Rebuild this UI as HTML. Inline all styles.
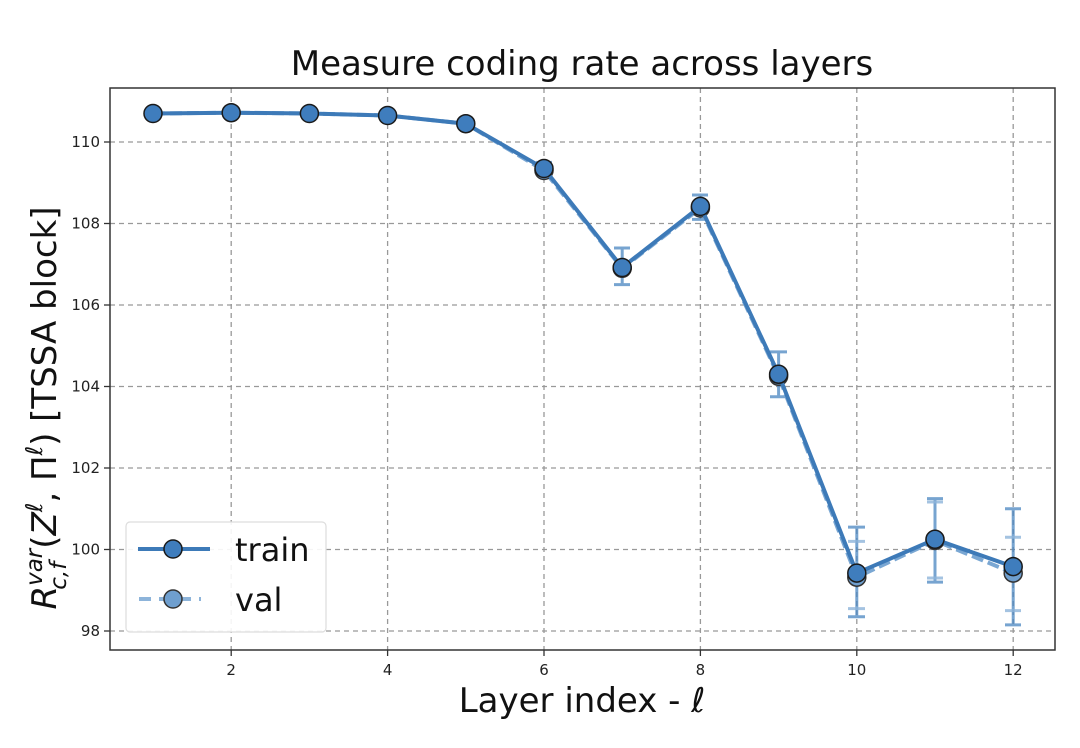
<!DOCTYPE html>
<html><head><meta charset="utf-8"><style>body{margin:0;background:#fff}svg{display:block}</style></head><body>
<svg width="1080" height="748" xmlns="http://www.w3.org/2000/svg" font-family="DejaVu Sans, Liberation Sans, sans-serif">
<rect width="1080" height="748" fill="#fff"/>
<text x="582" y="75" font-size="34" text-anchor="middle" fill="#111">Measure coding rate across layers</text>
<g stroke="#999" stroke-width="1.3" stroke-dasharray="5,4">
<line x1="110" x2="1055" y1="142" y2="142"/><line x1="110" x2="1055" y1="223.5" y2="223.5"/><line x1="110" x2="1055" y1="305" y2="305"/><line x1="110" x2="1055" y1="386.5" y2="386.5"/><line x1="110" x2="1055" y1="468" y2="468"/><line x1="110" x2="1055" y1="549.5" y2="549.5"/><line x1="110" x2="1055" y1="631" y2="631"/>
<line y1="88" y2="650" x1="231.2" x2="231.2"/><line y1="88" y2="650" x1="387.6" x2="387.6"/><line y1="88" y2="650" x1="544" x2="544"/><line y1="88" y2="650" x1="700.4" x2="700.4"/><line y1="88" y2="650" x1="856.8" x2="856.8"/><line y1="88" y2="650" x1="1013.2" x2="1013.2"/>
</g>
<rect x="110" y="88" width="945" height="562" fill="none" stroke="#333" stroke-width="1.5"/>
<g stroke="#333" stroke-width="1.3">
<line x1="104" x2="110" y1="142" y2="142"/><line x1="104" x2="110" y1="223.5" y2="223.5"/><line x1="104" x2="110" y1="305" y2="305"/><line x1="104" x2="110" y1="386.5" y2="386.5"/><line x1="104" x2="110" y1="468" y2="468"/><line x1="104" x2="110" y1="549.5" y2="549.5"/><line x1="104" x2="110" y1="631" y2="631"/>
<line y1="650" y2="656" x1="231.2" x2="231.2"/><line y1="650" y2="656" x1="387.6" x2="387.6"/><line y1="650" y2="656" x1="544" x2="544"/><line y1="650" y2="656" x1="700.4" x2="700.4"/><line y1="650" y2="656" x1="856.8" x2="856.8"/><line y1="650" y2="656" x1="1013.2" x2="1013.2"/>
</g>
<g font-size="15" fill="#222" text-anchor="end">
<text x="100" y="147">110</text><text x="100" y="228.5">108</text><text x="100" y="310">106</text><text x="100" y="391.5">104</text><text x="100" y="473">102</text><text x="100" y="554.5">100</text><text x="100" y="636">98</text>
</g>
<g font-size="15" fill="#222" text-anchor="middle">
<text x="231.2" y="675">2</text><text x="387.6" y="675">4</text><text x="544" y="675">6</text><text x="700.4" y="675">8</text><text x="856.8" y="675">10</text><text x="1013.2" y="675">12</text>
</g>
<text x="582" y="712" font-size="34" text-anchor="middle" fill="#111">Layer index - <tspan font-style="italic">ℓ</tspan></text>
<text transform="translate(56,408) rotate(-90)" font-size="34" text-anchor="middle" fill="#111"><tspan font-style="italic">R</tspan><tspan font-size="23" dy="-14" font-style="italic">var</tspan><tspan font-size="23" dx="-41" dy="24" font-style="italic">c,f</tspan><tspan dy="-10" dx="13">(</tspan><tspan font-style="italic">Z</tspan><tspan font-size="23" dy="-14" font-style="italic">ℓ</tspan><tspan dy="14">, Π</tspan><tspan font-size="23" dy="-14" font-style="italic">ℓ</tspan><tspan dy="14">) [TSSA block]</tspan></text>
<g stroke="#4a86c0" stroke-opacity="0.75" stroke-width="3">
<path d="M544 162.4V174.6M536 162.4H552M536 174.6H552"/>
<path d="M622.2 248V284.6M614 248H630M614 284.6H630"/>
<path d="M700.4 195V219.4M692 195H708M692 219.4H708"/>
<path d="M778.6 351.9V396.7M770 351.9H787M770 396.7H787"/>
<path d="M856.8 527.1V616.7M848 527.1H865M848 616.7H865"/>
<path d="M935 498.6V582.1M927 498.6H943M927 582.1H943"/>
<path d="M1013.2 508.7V624.9M1005 508.7H1021M1005 624.9H1021"/>
</g>
<g stroke="#8db4da" stroke-opacity="0.8" stroke-width="3">
<path d="M848 541.4H865M848 608.6H865"/>
<path d="M927 502H943M927 578H943"/>
<path d="M1005 537.3H1021M1005 610.6H1021"/>
</g>
<polyline fill="none" stroke="#7aa7d3" stroke-width="4" stroke-dasharray="12,5" points="153,113.5 231.2,112.7 309.4,113.5 387.6,115.5 465.8,123.7 544,170.5 622.2,268.3 700.4,208 778.6,376.3 856.8,577.2 935,540.5 1013.2,573.1"/>
<g fill="#6f9fcf" stroke="#333" stroke-width="1.5">
<circle cx="544" cy="170.5" r="9"/><circle cx="622.2" cy="268.3" r="9"/><circle cx="700.4" cy="208" r="9"/><circle cx="778.6" cy="376.3" r="9"/><circle cx="856.8" cy="577.2" r="9"/><circle cx="935" cy="540.5" r="9"/><circle cx="1013.2" cy="573.1" r="9"/>
</g>
<polyline fill="none" stroke="#3d7ab8" stroke-width="4" points="153,113.5 231.2,112.7 309.4,113.5 387.6,115.5 465.8,123.7 544,168.5 622.2,267.5 700.4,206.4 778.6,374.3 856.8,573.1 935,539.3 1013.2,566.6"/>
<g fill="#3f7dbd" stroke="#1a1a1a" stroke-width="1.5">
<circle cx="153" cy="113.5" r="9"/><circle cx="231.2" cy="112.7" r="9"/><circle cx="309.4" cy="113.5" r="9"/><circle cx="387.6" cy="115.5" r="9"/><circle cx="465.8" cy="123.7" r="9"/><circle cx="544" cy="168.5" r="9"/><circle cx="622.2" cy="267.5" r="9"/><circle cx="700.4" cy="206.4" r="9"/><circle cx="778.6" cy="374.3" r="9"/><circle cx="856.8" cy="573.1" r="9"/><circle cx="935" cy="539.3" r="9"/><circle cx="1013.2" cy="566.6" r="9"/>
</g>
<rect x="126" y="522" width="200" height="110" rx="4" fill="#fff" fill-opacity="0.9" stroke="#ddd" stroke-width="1.2"/>
<line x1="138" x2="210" y1="549" y2="549" stroke="#3d7ab8" stroke-width="4"/>
<circle cx="173" cy="549" r="9" fill="#3f7dbd" stroke="#1a1a1a" stroke-width="1.5"/>
<text x="235" y="561" font-size="32" fill="#111">train</text>
<line x1="139" x2="201" y1="599" y2="599" stroke="#8db4da" stroke-width="4" stroke-dasharray="12,8"/>
<circle cx="173" cy="599" r="9" fill="#6f9fcf" stroke="#333" stroke-width="1.5"/>
<text x="235" y="611" font-size="32" fill="#111">val</text>
</svg>
</body></html>
